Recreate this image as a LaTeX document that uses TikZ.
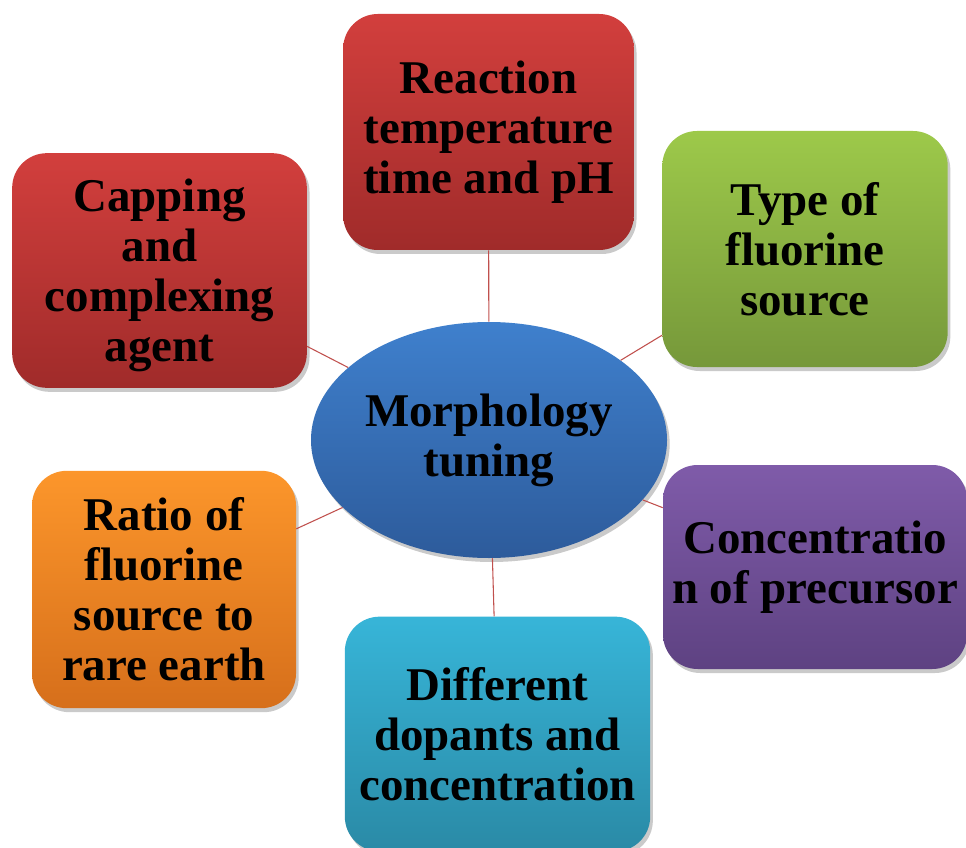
\documentclass[tikz,border=0pt]{standalone}
\usepackage{fontspec}
\setmainfont{Liberation Serif}
\usetikzlibrary{shadows,shapes.geometric}

\definecolor{linkred}{HTML}{C0504D}

\tikzset{
  factor/.style={rounded corners=26pt, align=center, inner sep=0pt,
    font=\fontsize{35.2}{37.5}\selectfont\bfseries,
    drop shadow={shadow xshift=2pt, shadow yshift=-3pt, opacity=0.35, fill=black!60}},
  core/.style={ellipse, align=center, inner sep=0pt,
    minimum width=267pt, minimum height=177pt,
    top color=blueA, bottom color=blueB,
    font=\fontsize{35.2}{37.5}\selectfont\bfseries,
    drop shadow={shadow xshift=2pt, shadow yshift=-3pt, opacity=0.35, fill=black!60}},
  link/.style={draw=linkred, line width=0.8pt}
}

\definecolor{redA}{HTML}{D23F3D}
\definecolor{redB}{HTML}{A02B2A}
\definecolor{greenA}{HTML}{9DC94A}
\definecolor{greenB}{HTML}{76983A}
\definecolor{purpleA}{HTML}{7F5BA9}
\definecolor{purpleB}{HTML}{5E4282}
\definecolor{tealA}{HTML}{37B5D8}
\definecolor{tealB}{HTML}{2A8AA6}
\definecolor{orangeA}{HTML}{FC962B}
\definecolor{orangeB}{HTML}{D66F1B}
\definecolor{blueA}{HTML}{3F80CD}
\definecolor{blueB}{HTML}{2D5B9B}

\begin{document}
\begin{tikzpicture}[x=0.75pt, y=-0.75pt]
  \useasboundingbox (0,0) rectangle (966,848);

  % the six factors
  \node[factor, top color=redA, bottom color=redB,
        minimum width=218pt, minimum height=177pt]
    (temp) at (488.5,132) {Reaction\\temperature\\time and pH};
  \node[factor, top color=greenA, bottom color=greenB,
        minimum width=214pt, minimum height=177pt]
    (source) at (805,249) {Type of\\fluorine\\source};
  \node[factor, top color=purpleA, bottom color=purpleB,
        minimum width=228pt, minimum height=153pt]
    (precursor) at (815,567) {Concentratio\\n of precursor};
  \node[factor, top color=tealA, bottom color=tealB,
        minimum width=229pt, minimum height=176pt]
    (dopants) at (497.5,734) {Different\\dopants and\\concentration};
  \node[factor, top color=orangeA, bottom color=orangeB,
        minimum width=198pt, minimum height=178pt]
    (ratio) at (164,589.5) {Ratio of\\fluorine\\source to\\rare earth};
  \node[factor, top color=redA, bottom color=redB,
        minimum width=221pt, minimum height=176pt, text depth=-10pt]
    (capping) at (159.5,270.5) {Capping\\and\\complexing\\agent};

  % centre
  \node[core] (tuning) at (489,440) {Morphology\\tuning};

  \begin{scope}[link]
    \draw (tuning) to (temp);
    \draw (tuning) to (source);
    \draw (tuning) to (precursor);
    \draw (tuning) to (dopants);
    \draw (tuning) to (ratio);
    \draw (tuning) to (capping);
  \end{scope}
\end{tikzpicture}
\end{document}
